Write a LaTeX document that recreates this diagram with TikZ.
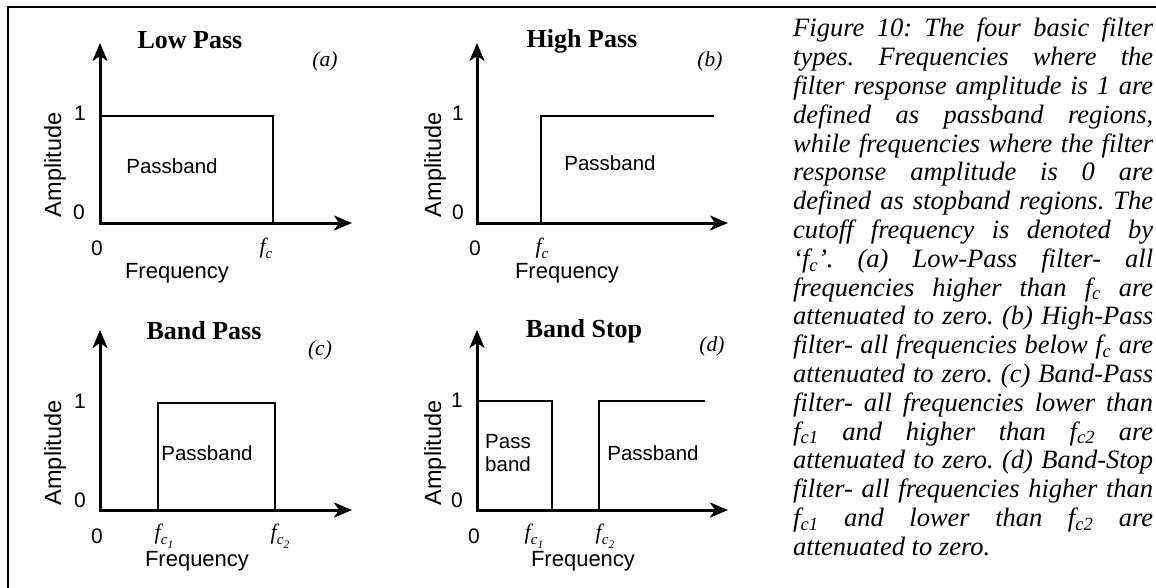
\documentclass[tikz,border=0pt]{standalone}
\usepackage{fontspec}
\setmainfont{Liberation Serif}
\newfontfamily\arialf{Liberation Sans}
\usetikzlibrary{arrows.meta}
\newcommand{\gfc}{\textit{f\raisebox{-5pt}{\fontsize{15}{15}\selectfont c}}}
\newcommand{\gfcn}[1]{\textit{f\raisebox{-5pt}{\fontsize{15}{15}\selectfont c\raisebox{-4pt}{\fontsize{11.5}{11.5}\selectfont #1}}}}
\newcommand{\cfc}[1]{\textit{f}\textsubscript{\textit{c#1}}}
\newcommand{\jl}[1]{\hbox to 360pt{#1}}
\begin{document}
\begin{tikzpicture}[x=1pt,y=-1pt,
  axis/.style={line width=3pt, line join=miter, >={Stealth[length=18pt,width=15pt,inset=5pt]}, <->},
  resp/.style={line width=1.3pt},
  lab/.style={font=\arialf\fontsize{21}{24}\selectfont, inner sep=0pt},
  pb/.style={font=\arialf\fontsize{20.5}{23}\selectfont, inner sep=0pt},
  freq/.style={font=\arialf\fontsize{22}{26}\selectfont, inner sep=0pt},
  ampl/.style={font=\arialf\fontsize{23.5}{28}\selectfont, inner sep=0pt, rotate=90},
  ttl/.style={font=\bfseries\fontsize{26}{30}\selectfont, inner sep=0pt},
  tag/.style={font=\itshape\fontsize{21.5}{24}\selectfont, inner sep=0pt},
  fl/.style={font=\fontsize{22}{24}\selectfont, inner sep=0pt},
  frame/.style={line width=2.2pt}
]
\useasboundingbox (0,0) rectangle (1156,588);
% frame
\coordinate (fbl) at (8,588);
\coordinate (ftl) at (8,7);
\coordinate (ftr) at (1156,7);
\draw[frame] (fbl) -- (ftl) -- (ftr);

% ---------- (a) Low Pass ----------
\coordinate (a-o) at (100,223);
\coordinate (a-top) at (100,43);
\coordinate (a-right) at (352,223);
\coordinate (a-l1) at (100,116);
\coordinate (a-c1) at (273,116);
\coordinate (a-c0) at (273,223);
\draw[resp] (a-l1) -- (a-c1) -- (a-c0);
\draw[axis] (a-top) -- (a-o) -- (a-right);
\node[ttl] (a-ttl) at (190,40) {Low Pass};
\node[tag] (a-tag) at (325,61) {(a)};
\node[lab] (a-one) at (80,113) {1};
\node[lab] (a-zero) at (79,212) {0};
\node[ampl] (a-amp) at (55,165) {Amplitude};
\node[pb] (a-pb) at (172,166) {Passband};
\node[lab] (a-x0) at (97,248) {0};
\node[fl] (a-fc) at (266,248) {\gfc};
\node[freq] (a-freq) at (177,273) {Frequency};

% ---------- (b) High Pass ----------
\coordinate (b-o) at (477,223);
\coordinate (b-top) at (477,43);
\coordinate (b-right) at (728,223);
\coordinate (b-c0) at (541,223);
\coordinate (b-c1) at (541,116);
\coordinate (b-l1) at (714,116);
\draw[resp] (b-c0) -- (b-c1) -- (b-l1);
\draw[axis] (b-top) -- (b-o) -- (b-right);
\node[ttl] (b-ttl) at (582,41) {High Pass};
\node[tag] (b-tag) at (710,61) {(b)};
\node[lab] (b-one) at (458,113) {1};
\node[lab] (b-zero) at (458,212) {0};
\node[ampl] (b-amp) at (435,165) {Amplitude};
\node[pb] (b-pb) at (610,163) {Passband};
\node[lab] (b-x0) at (475,248) {0};
\node[fl] (b-fc) at (542,248) {\gfc};
\node[freq] (b-freq) at (567,273) {Frequency};

% ---------- (c) Band Pass ----------
\coordinate (c-o) at (100,510);
\coordinate (c-top) at (100,330);
\coordinate (c-right) at (352,510);
\coordinate (c-a0) at (158,510);
\coordinate (c-a1) at (158,403);
\coordinate (c-b1) at (275,403);
\coordinate (c-b0) at (275,510);
\draw[resp] (c-a0) -- (c-a1) -- (c-b1) -- (c-b0);
\draw[axis] (c-top) -- (c-o) -- (c-right);
\node[ttl] (c-ttl) at (204,331) {Band Pass};
\node[tag] (c-tag) at (320,350) {(c)};
\node[lab] (c-one) at (80,401) {1};
\node[lab] (c-zero) at (80,500) {0};
\node[ampl] (c-amp) at (55,453) {Amplitude};
\node[pb] (c-pb) at (207,453) {Passband};
\node[lab] (c-x0) at (97,536) {0};
\node[fl] (c-fc1) at (164,536) {\gfcn{1}};
\node[fl] (c-fc2) at (280,536) {\gfcn{2}};
\node[freq] (c-freq) at (197,561) {Frequency};

% ---------- (d) Band Stop ----------
\coordinate (d-o) at (477,510);
\coordinate (d-top) at (477,330);
\coordinate (d-right) at (728,510);
\coordinate (d-l1) at (477,401);
\coordinate (d-a1) at (552,401);
\coordinate (d-a0) at (552,510);
\coordinate (d-b0) at (599,510);
\coordinate (d-b1) at (599,401);
\coordinate (d-r1) at (705,401);
\draw[resp] (d-l1) -- (d-a1) -- (d-a0);
\draw[resp] (d-b0) -- (d-b1) -- (d-r1);
\draw[axis] (d-top) -- (d-o) -- (d-right);
\node[ttl] (d-ttl) at (584,331) {Band Stop};
\node[tag] (d-tag) at (712,346) {(d)};
\node[lab] (d-one) at (457,400) {1};
\node[lab] (d-zero) at (457,500) {0};
\node[ampl] (d-amp) at (435,453) {Amplitude};
\node[pb, align=left] (d-pb1) at (508,453) {Pass\\band};
\node[pb] (d-pb2) at (653,453) {Passband};
\node[lab] (d-x0) at (474,536) {0};
\node[fl] (d-fc1) at (534,536) {\gfcn{1}};
\node[fl] (d-fc2) at (605,536) {\gfcn{2}};
\node[freq] (d-freq) at (583,561) {Frequency};

% ---------- caption ----------
\node[anchor=base west, inner sep=0pt] (cap) at (793,37) {\vtop{\fontsize{26.5}{28.8}\selectfont\itshape\frenchspacing
  \baselineskip=28.8pt \lineskiplimit=-100pt
  \jl{Figure 10: The four basic filter}
  \jl{types. Frequencies where the}
  \jl{filter response amplitude is 1 are}
  \jl{defined as passband regions,}
  \jl{while frequencies where the filter}
  \jl{response amplitude is 0 are}
  \jl{defined as stopband regions. The}
  \jl{cutoff frequency is denoted by}
  \jl{‘\cfc{}’. (a) Low-Pass filter- all}
  \jl{frequencies higher than \cfc{} are}
  \jl{attenuated to zero. (b) High-Pass}
  \jl{filter- all frequencies below \cfc{} are}
  \jl{attenuated to zero. (c) Band-Pass}
  \jl{filter- all frequencies lower than}
  \jl{\cfc{1} and higher than \cfc{2} are}
  \jl{attenuated to zero. (d) Band-Stop}
  \jl{filter- all frequencies higher than}
  \jl{\cfc{1} and lower than \cfc{2} are}
  \hbox{attenuated to zero.}}};
\end{tikzpicture}
\end{document}
